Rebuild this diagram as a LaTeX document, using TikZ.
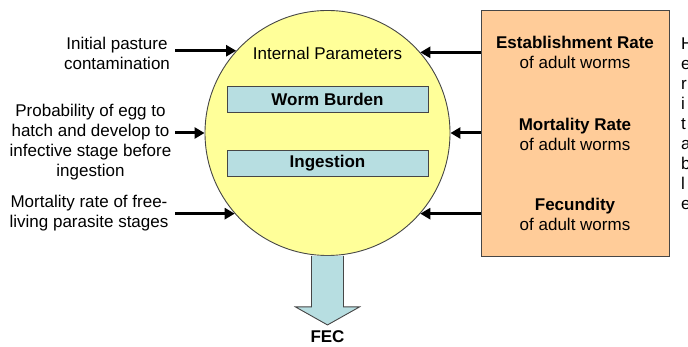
\documentclass[tikz,border=0pt]{standalone}
\usepackage{fontspec}
\setmainfont{Liberation Sans}
\usepackage{xcolor}
\usetikzlibrary{
  arrows.meta,
  positioning,
  calc
}
\definecolor{fillYel}{RGB}{255, 255, 153}
\definecolor{fillCyan}{RGB}{183, 222, 225}
\definecolor{fillPeach}{RGB}{255, 204, 153}
\definecolor{edgegray}{RGB}{70, 70, 70}
\tikzset{
  % Matnlar
  txt/.style      = {font=\fontsize{17}{20}\selectfont, inner sep=0pt, align=center},
  txtbold/.style  = {txt, font=\fontsize{17}{20}\selectfont\bfseries},
  % Shakllar
  paramcirc/.style = {circle, draw=edgegray, line width=0.9pt, fill=fillYel,
                      minimum size=245pt, inner sep=0pt},
  innerbox/.style  = {txtbold, draw=edgegray, line width=0.9pt, fill=fillCyan,
                      minimum width=201pt, minimum height=26pt},
  stagebox/.style  = {draw=edgegray, line width=0.9pt, fill=fillPeach,
                      minimum width=188pt, minimum height=246pt, inner sep=0pt},
  % O'qlar
  feed/.style    = {-{Triangle[length=10pt, width=11pt]}, line width=3pt, black},
  outarrow/.style = {draw=edgegray, line width=0.9pt, fill=fillCyan, line join=miter},
}

\begin{document}
\begin{tikzpicture}[x=1pt, y=-1pt]
  \useasboundingbox (0,0) rectangle (688,347);

  % Ichki parametrlar doirasi
  \node[paramcirc] (param) at (327.5,133) {};
  \node[txt] (intlabel) at (327.5,53) {Internal Parameters};
  \node[innerbox] (burden) at (327.5,99) {Worm Burden};
  \node[innerbox] (ingest) at (327.5,163) {Ingestion};

  % Chiqish: FEC
  \filldraw[outarrow] ([xshift=-16pt]param.south) -- ++(0,51) -- ++(-16,0)
    -- ++(32,18) -- ++(32,-18) -- ++(-16,0) -- ++(0,-51);
  \node[txtbold] (fec) at (327.5,337) {FEC};

  % Tashqi parametrlar (chap)
  \node[txt] (pasture) at (117,53) {Initial pasture\\contamination};
  \node[txt] (hatch) at (90.5,142) {Probability of egg to\\hatch and develop to\\infective stage before\\ingestion};
  \node[txt] (freeliving) at (89,213) {Mortality rate of free-\\living parasite stages};
  \coordinate (lefttail) at (175,0);

  \draw[feed] (param.138.6 -| lefttail) -- (param.138.6);
  \draw[feed] (param.180 -| lefttail) -- (param.180);
  \draw[feed] (param.221.4 -| lefttail) -- (param.221.4);

  % Katta worm parametrlari (o'ng)
  \node[stagebox] (stage) at (575,133) {};
  \node[txt] (estab) at (575,52.5) {\textbf{Establishment Rate}\\of adult worms};
  \node[txt] (mortal) at (575,134) {\textbf{Mortality Rate}\\of adult worms};
  \node[txt] (fecund) at (575,214.5) {\textbf{Fecundity}\\of adult worms};

  \draw[feed] (param.41.4 -| stage.west) -- (param.41.4);
  \draw[feed] (param.0 -| stage.west) -- (param.0);
  \draw[feed] (param.-41.4 -| stage.west) -- (param.-41.4);

  % Kesilgan izoh
  \node[txt, align=left, anchor=west] (herit) at (681,123.5) {H\\e\\r\\i\\t\\a\\b\\l\\e};
\end{tikzpicture}
\end{document}
